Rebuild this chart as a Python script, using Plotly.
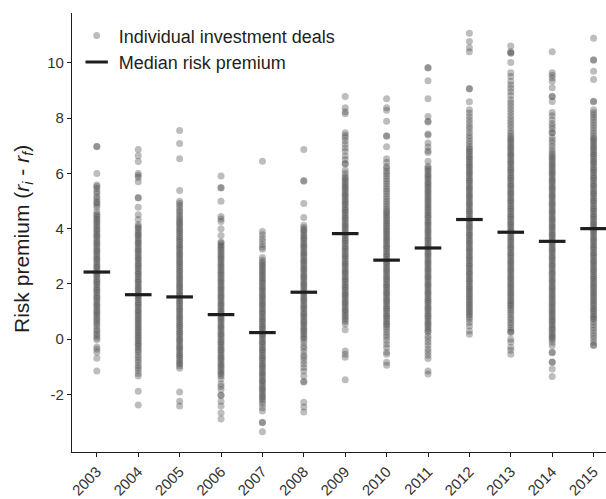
import plotly.graph_objects as go

# Year categories on the x axis
years = ["2003", "2004", "2005", "2006", "2007", "2008", "2009",
         "2010", "2011", "2012", "2013", "2014", "2015"]

# Median risk premium per year
median_premium = [2.43, 1.61, 1.53, 0.89, 0.24, 1.70, 3.82,
                  2.86, 3.30, 4.33, 3.87, 3.54, 4.00]

# Risk premium of the individual investment deals, per year
deals_2003 = [6.98, 6.96, 5.99, 5.58, 5.52, 5.45, 5.34, 5.27, 5.15, 5.08, 4.98, 4.93, 4.86, 4.77, 4.62, 4.52, 4.47, 4.40,
              4.33, 4.27, 4.20, 4.13, 4.06, 3.99, 3.93, 3.85, 3.78, 3.72, 3.65, 3.57, 3.50, 3.44, 3.37, 3.29, 3.22, 3.16,
              3.09, 3.01, 2.94, 2.88, 2.81, 2.73, 2.66, 2.60, 2.53, 2.45, 2.38, 2.32, 2.25, 2.17, 2.10, 2.04, 1.97, 1.89,
              1.82, 1.76, 1.69, 1.61, 1.54, 1.48, 1.41, 1.33, 1.26, 1.20, 1.13, 1.05, 0.98, 0.92, 0.85, 0.77, 0.70,
              0.62, 0.55, 0.47, 0.36, 0.30, 0.21, 0.13, 0.05, -0.02, -0.28, -0.36, -0.47, -0.69, -1.15]
deals_2004 = [6.86, 6.64, 6.43, 5.99, 5.92, 5.85, 5.70, 5.13, 5.11, 4.77, 4.50, 4.33,
              4.15, 4.08, 4.02, 3.95, 3.87, 3.80, 3.74, 3.67, 3.59, 3.52, 3.46, 3.39, 3.31, 3.24, 3.18, 3.11, 3.03,
              2.96, 2.90, 2.83, 2.75, 2.68, 2.62, 2.55, 2.47, 2.40, 2.34, 2.27, 2.19, 2.12, 2.06, 1.99, 1.91, 1.84,
              1.78, 1.71, 1.63, 1.56, 1.50, 1.43, 1.35, 1.28, 1.22, 1.15, 1.07, 1.00, 0.94, 0.87, 0.79, 0.72, 0.66,
              0.59, 0.51, 0.44, 0.38, 0.31, 0.23, 0.16, 0.10, 0.03, -0.05, -0.12, -0.18, -0.25, -0.33, -0.40, -0.47,
              -0.58, -0.66, -0.75, -0.84, -0.95, -1.03, -1.12, -1.24, -1.33, -1.88, -2.38]
deals_2005 = [7.55, 7.08, 6.53, 5.38, 4.99, 4.92, 4.84, 4.75, 4.66, 4.58, 4.49, 4.41, 4.34,
              4.27, 4.20, 4.14, 4.07, 3.99, 3.92, 3.86, 3.79, 3.71, 3.64, 3.58, 3.51, 3.43, 3.36, 3.30, 3.23, 3.15,
              3.08, 3.02, 2.95, 2.87, 2.80, 2.74, 2.67, 2.59, 2.52, 2.46, 2.39, 2.31, 2.24, 2.18, 2.11, 2.03, 1.96,
              1.90, 1.83, 1.75, 1.68, 1.62, 1.55, 1.47, 1.40, 1.34, 1.27, 1.19, 1.12, 1.06, 0.99, 0.91, 0.84, 0.78,
              0.71, 0.63, 0.56, 0.50, 0.43, 0.35, 0.28, 0.22, 0.15, 0.07, 0.00, -0.06, -0.13, -0.21, -0.28, -0.34,
              -0.41, -0.49, -0.56, -0.62, -0.69, -0.77, -0.84, -0.90, -0.97, -1.05,
              -1.91, -2.24, -2.42]
deals_2006 = [5.90, 5.49, 5.47, 4.99, 4.44, 4.35, 4.26, 4.00, 3.75, 3.52, 3.48, 3.41,
              3.35, 3.28, 3.22, 3.15, 3.07, 3.00, 2.94, 2.87, 2.79, 2.72, 2.66, 2.59, 2.51, 2.44, 2.38, 2.31, 2.23,
              2.16, 2.10, 2.03, 1.95, 1.88, 1.82, 1.75, 1.67, 1.60, 1.54, 1.47, 1.39, 1.32, 1.26, 1.19, 1.11, 1.04,
              0.98, 0.91, 0.83, 0.76, 0.70, 0.63, 0.55, 0.48, 0.42, 0.35, 0.27, 0.20, 0.14, 0.07, -0.01, -0.08,
              -0.14, -0.21, -0.29, -0.36, -0.42, -0.49, -0.57, -0.64, -0.70, -0.77, -0.85, -0.92, -0.98, -1.05,
              -1.13, -1.20, -1.26, -1.33, -1.44,
              -1.62, -1.71, -1.82, -2.02, -2.04, -2.24, -2.42, -2.67, -2.89]
deals_2007 = [6.44, 3.90, 3.78, 3.65, 3.54, 3.43, 3.33, 3.25, 2.96, 2.86,
              2.78, 2.71, 2.65, 2.58, 2.50, 2.43, 2.37, 2.30, 2.22, 2.15, 2.09, 2.02, 1.94, 1.87, 1.81, 1.74, 1.66,
              1.59, 1.53, 1.46, 1.38, 1.31, 1.25, 1.18, 1.10, 1.03, 0.97, 0.90, 0.82, 0.75, 0.69, 0.62, 0.54, 0.47,
              0.41, 0.34, 0.26, 0.19, 0.13, 0.06, -0.02, -0.09, -0.15, -0.22, -0.30, -0.37, -0.43, -0.50, -0.58,
              -0.65, -0.71, -0.78, -0.86, -0.93, -0.99, -1.06, -1.14, -1.21, -1.27, -1.34, -1.42, -1.49, -1.55,
              -1.62, -1.70, -1.77, -1.83, -1.90, -1.98, -2.05, -2.11, -2.18, -2.26, -2.35,
              -2.48, -2.60, -3.00, -3.02, -3.35]
deals_2008 = [6.86, 5.74, 5.71, 4.91, 4.40, 4.12,
              4.04, 3.97, 3.91, 3.84, 3.76, 3.69, 3.63, 3.56, 3.48, 3.41, 3.35, 3.28, 3.20, 3.13, 3.07, 3.00, 2.92,
              2.85, 2.79, 2.72, 2.64, 2.57, 2.51, 2.44, 2.36, 2.29, 2.23, 2.16, 2.08, 2.01, 1.95, 1.88, 1.80, 1.73,
              1.67, 1.60, 1.52, 1.45, 1.39, 1.32, 1.24, 1.17, 1.11, 1.04, 0.96, 0.89, 0.83, 0.76, 0.68, 0.61, 0.55,
              0.48, 0.40, 0.33, 0.27, 0.20, 0.12, 0.05, -0.01,
              -0.12, -0.25, -0.33, -0.45, -0.58, -0.66, -0.78, -0.90, -1.02, -1.15, -1.33, -1.53, -1.55,
              -2.28, -2.45, -2.63]
deals_2009 = [8.78, 8.37, 8.23, 8.16, 7.47, 7.38, 7.30, 7.18, 7.05, 6.92, 6.80, 6.63, 6.50, 6.36, 6.34, 6.12, 6.00,
              5.90, 5.83, 5.77, 5.70, 5.62, 5.55, 5.49, 5.42, 5.34, 5.27, 5.21, 5.14, 5.06, 4.99, 4.93, 4.86, 4.78,
              4.71, 4.65, 4.58, 4.50, 4.43, 4.37, 4.30, 4.22, 4.15, 4.09, 4.02, 3.94, 3.87, 3.81, 3.74, 3.66, 3.59,
              3.53, 3.46, 3.38, 3.31, 3.25, 3.18, 3.10, 3.03, 2.97, 2.90, 2.82, 2.75, 2.69, 2.62, 2.54, 2.47, 2.41,
              2.34, 2.26, 2.19, 2.13, 2.06, 1.98, 1.91, 1.85, 1.78, 1.70, 1.63, 1.57, 1.50, 1.42, 1.35, 1.29, 1.22,
              1.14, 1.07, 1.01, 0.94, 0.86, 0.79, 0.72,
              0.64, 0.55, 0.34, -0.43, -0.54, -0.65, -1.47]
deals_2010 = [8.70, 8.37, 8.28, 7.88, 7.36, 7.34, 6.96, 6.53, 6.40, 6.25,
              6.18, 6.08, 5.99, 5.90, 5.80, 5.71, 5.62, 5.52, 5.43, 5.35, 5.26, 5.16, 5.07, 4.98, 4.89, 4.80, 4.71, 4.64,
              4.57, 4.50, 4.44, 4.37, 4.29, 4.22, 4.16, 4.09, 4.01, 3.94, 3.88, 3.81, 3.73, 3.66, 3.60, 3.53, 3.45,
              3.38, 3.32, 3.25, 3.17, 3.10, 3.04, 2.97, 2.89, 2.82, 2.76, 2.69, 2.61, 2.54, 2.48, 2.41, 2.33, 2.26,
              2.20, 2.13, 2.05, 1.98, 1.92, 1.85, 1.77, 1.70, 1.64, 1.57, 1.49, 1.42, 1.36, 1.29, 1.21, 1.14, 1.08,
              1.01, 0.93, 0.86, 0.80, 0.73, 0.65, 0.58, 0.52, 0.45, 0.36,
              0.26, 0.16, 0.07, -0.05, -0.18, -0.30, -0.47, -0.54, -0.83, -0.94]
deals_2011 = [9.83, 9.81, 9.35, 8.70, 8.06, 7.88, 7.86, 7.42, 7.39, 7.10, 6.95, 6.82, 6.75, 6.44,
              6.26, 6.19, 6.13, 6.06, 5.98, 5.91, 5.85, 5.78, 5.70, 5.63, 5.57, 5.50, 5.42, 5.35, 5.29, 5.22, 5.14,
              5.07, 5.01, 4.94, 4.86, 4.79, 4.73, 4.66, 4.58, 4.51, 4.45, 4.38, 4.30, 4.23, 4.17, 4.10, 4.02, 3.95,
              3.89, 3.82, 3.74, 3.67, 3.61, 3.54, 3.46, 3.39, 3.33, 3.26, 3.18, 3.11, 3.05, 2.98, 2.90, 2.83, 2.77,
              2.70, 2.62, 2.55, 2.49, 2.42, 2.34, 2.27, 2.21, 2.14, 2.06, 1.99, 1.93, 1.86, 1.78, 1.71, 1.65, 1.58,
              1.50, 1.43, 1.37, 1.30, 1.22, 1.15, 1.09, 1.02, 0.94, 0.87, 0.81, 0.74, 0.66, 0.59, 0.53, 0.46, 0.38,
              0.31, 0.25,
              0.12, 0.02, -0.10, -0.22, -0.35, -0.46, -0.58, -0.70, -1.15, -1.26]
deals_2012 = [11.07, 10.77, 10.54, 10.40, 9.07, 9.05, 8.59, 8.30, 8.18, 8.06, 7.94, 7.82, 7.70, 7.60, 7.48, 7.37,
              7.27, 7.16, 7.06,
              6.96, 6.89, 6.83, 6.76, 6.68, 6.61, 6.55, 6.48, 6.40, 6.33, 6.27, 6.20, 6.12, 6.05, 5.99, 5.92, 5.84,
              5.77, 5.71, 5.64, 5.56, 5.49, 5.43, 5.36, 5.28, 5.21, 5.15, 5.08, 5.00, 4.93, 4.87, 4.80, 4.72, 4.65,
              4.59, 4.52, 4.44, 4.37, 4.31, 4.24, 4.16, 4.09, 4.03, 3.96, 3.88, 3.81, 3.75, 3.68, 3.60, 3.53, 3.47,
              3.40, 3.32, 3.25, 3.19, 3.12, 3.04, 2.97, 2.91, 2.84, 2.76, 2.69, 2.63, 2.56, 2.48, 2.41, 2.35, 2.28,
              2.20, 2.13, 2.07, 2.00, 1.92, 1.85, 1.79, 1.72, 1.64, 1.57, 1.51, 1.44, 1.36, 1.29, 1.23, 1.16, 1.08,
              1.01, 0.95, 0.88, 0.80, 0.72,
              0.60, 0.48, 0.30, 0.18]
deals_2013 = [10.61, 10.40, 10.36, 10.34, 10.01, 9.64, 9.50, 9.33, 9.20, 9.08, 8.95, 8.82, 8.66, 8.55, 8.44, 8.32,
              8.20, 8.08, 7.97, 7.86, 7.75, 7.64, 7.52, 7.43,
              7.34, 7.27, 7.21, 7.14, 7.06, 6.99, 6.93, 6.86, 6.78, 6.71, 6.65, 6.58, 6.50, 6.43, 6.37, 6.30, 6.22,
              6.15, 6.09, 6.02, 5.94, 5.87, 5.81, 5.74, 5.66, 5.59, 5.53, 5.46, 5.38, 5.31, 5.25, 5.18, 5.10, 5.03,
              4.97, 4.90, 4.82, 4.75, 4.69, 4.62, 4.54, 4.47, 4.41, 4.34, 4.26, 4.19, 4.13, 4.06, 3.98, 3.91, 3.85,
              3.78, 3.70, 3.63, 3.57, 3.50, 3.42, 3.35, 3.29, 3.22, 3.14, 3.07, 3.01, 2.94, 2.86, 2.79, 2.73, 2.66,
              2.58, 2.51, 2.45, 2.38, 2.30, 2.23, 2.17, 2.10, 2.02, 1.95, 1.89, 1.82, 1.74, 1.67, 1.61, 1.54, 1.46,
              1.39, 1.33, 1.26, 1.20,
              1.12, 1.05, 0.96, 0.88, 0.78, 0.70, 0.60, 0.52, 0.42, 0.33, 0.26, 0.24, 0.00, -0.10, -0.29, -0.40, -0.54]
deals_2014 = [10.40, 9.64, 9.55, 9.45, 9.33, 9.10, 8.79, 8.77, 8.60, 8.20, 8.08, 7.94, 7.80, 7.70, 7.60, 7.48, 7.46,
              7.30, 7.20, 7.10, 6.98, 6.86, 6.76,
              6.68, 6.61, 6.55, 6.48, 6.40, 6.33, 6.27, 6.20, 6.12, 6.05, 5.99, 5.92, 5.84, 5.77, 5.71, 5.64, 5.56,
              5.49, 5.43, 5.36, 5.28, 5.21, 5.15, 5.08, 5.00, 4.93, 4.87, 4.80, 4.72, 4.65, 4.59, 4.52, 4.44, 4.37,
              4.31, 4.24, 4.16, 4.09, 4.03, 3.96, 3.88, 3.81, 3.75, 3.68, 3.60, 3.53, 3.47, 3.40, 3.32, 3.25, 3.19,
              3.12, 3.04, 2.97, 2.91, 2.84, 2.76, 2.69, 2.63, 2.56, 2.48, 2.41, 2.35, 2.28, 2.20, 2.13, 2.07, 2.00,
              1.92, 1.85, 1.79, 1.72, 1.64, 1.57, 1.51, 1.44, 1.36, 1.29, 1.23, 1.16, 1.08, 1.01, 0.95, 0.88, 0.80,
              0.73, 0.67, 0.60, 0.52, 0.45, 0.39, 0.32, 0.24, 0.17, 0.11, 0.04, -0.02,
              -0.12, -0.24, -0.47, -0.49, -0.82, -0.83, -1.08, -1.35]
deals_2015 = [10.89, 10.11, 10.09, 9.69, 9.39, 8.61, 8.59, 8.30, 8.20, 8.12, 8.03, 7.94, 7.84, 7.74, 7.64, 7.54, 7.44,
              7.34, 7.27, 7.21, 7.14, 7.06, 6.99, 6.93, 6.86, 6.78, 6.71, 6.65, 6.58, 6.50, 6.43, 6.37, 6.30, 6.22,
              6.15, 6.09, 6.02, 5.94, 5.87, 5.81, 5.74, 5.66, 5.59, 5.53, 5.46, 5.38, 5.31, 5.25, 5.18, 5.10, 5.03,
              4.97, 4.90, 4.82, 4.75, 4.69, 4.62, 4.54, 4.47, 4.41, 4.34, 4.26, 4.19, 4.13, 4.06, 3.98, 3.91, 3.85,
              3.78, 3.70, 3.63, 3.57, 3.50, 3.42, 3.35, 3.29, 3.22, 3.14, 3.07, 3.01, 2.94, 2.86, 2.79, 2.73, 2.66,
              2.58, 2.51, 2.45, 2.38, 2.30, 2.23, 2.17, 2.10, 2.02, 1.95, 1.89, 1.82, 1.74, 1.67, 1.61, 1.54, 1.46,
              1.39, 1.33, 1.26, 1.18, 1.11, 1.05, 0.98, 0.90, 0.83, 0.77, 0.72,
              0.62, 0.52, 0.42, 0.32, 0.22, 0.12, 0.02, -0.10, -0.21, -0.23]

deal_series = [deals_2003, deals_2004, deals_2005, deals_2006, deals_2007, deals_2008, deals_2009,
               deals_2010, deals_2011, deals_2012, deals_2013, deals_2014, deals_2015]

# Y axis ticks (hyphen minus, as printed)
y_tick_vals = [-2, 0, 2, 4, 6, 8, 10]
y_tick_text = ["-2", "0", "2", "4", "6", "8", "10"]

x_pts = [yr for yr, vals in zip(years, deal_series) for _ in vals]
y_pts = [v for vals in deal_series for v in vals]

FONT = "Liberation Sans, Arial, sans-serif"
INK = "#1e1e1e"

fig = go.Figure()

fig.add_trace(go.Scatter(
    x=x_pts, y=y_pts, mode="markers",
    name="Individual investment deals",
    legendgroup="deals",
    marker=dict(size=7, color="#4d4d4d", opacity=0.37, line=dict(width=0)),
))

fig.add_trace(go.Scatter(
    x=years, y=median_premium, mode="markers",
    name="Median risk premium",
    legendgroup="median",
    marker=dict(symbol="line-ew", size=19, color=INK,
                line=dict(width=3.2, color=INK)),
))

# Y axis title, set as a rotated annotation beside the axis
fig.add_annotation(
    text="Risk premium (<i>r</i><sub><i>i</i></sub> - <i>r</i><sub><i>f</i></sub>)",
    xref="paper", yref="paper", x=-0.092, y=0.485,
    xanchor="center", yanchor="middle", textangle=-90, showarrow=False,
    font=dict(size=21, color=INK),
)

fig.update_layout(
    width=606, height=499,
    margin=dict(l=72, r=0, t=13, b=45),
    paper_bgcolor="white", plot_bgcolor="white",
    font=dict(family=FONT, color=INK),
    showlegend=True,
    legend=dict(
        x=0.005, y=0.99, xanchor="left", yanchor="top",
        bgcolor="rgba(0,0,0,0)", borderwidth=0,
        font=dict(size=18, color=INK),
        tracegroupgap=0, itemsizing="trace", itemwidth=34,
    ),
    xaxis=dict(
        type="category", categoryorder="array", categoryarray=years,
        range=[-0.6, 12.3],
        showline=True, linecolor=INK, linewidth=1.3,
        ticks="outside", ticklen=4, tickcolor=INK, tickwidth=1.2,
        tickangle=-45, tickfont=dict(size=15, color="#333333"),
        showgrid=False, zeroline=False,
    ),
    yaxis=dict(
        range=[-4.08, 11.8],
        tickvals=y_tick_vals, ticktext=y_tick_text,
        showline=True, linecolor=INK, linewidth=1.3,
        ticks="outside", ticklen=4, tickcolor=INK, tickwidth=1.2,
        tickfont=dict(size=15, color="#333333"),
        showgrid=False, zeroline=False,
    ),
)

fig.write_html("out.html")
